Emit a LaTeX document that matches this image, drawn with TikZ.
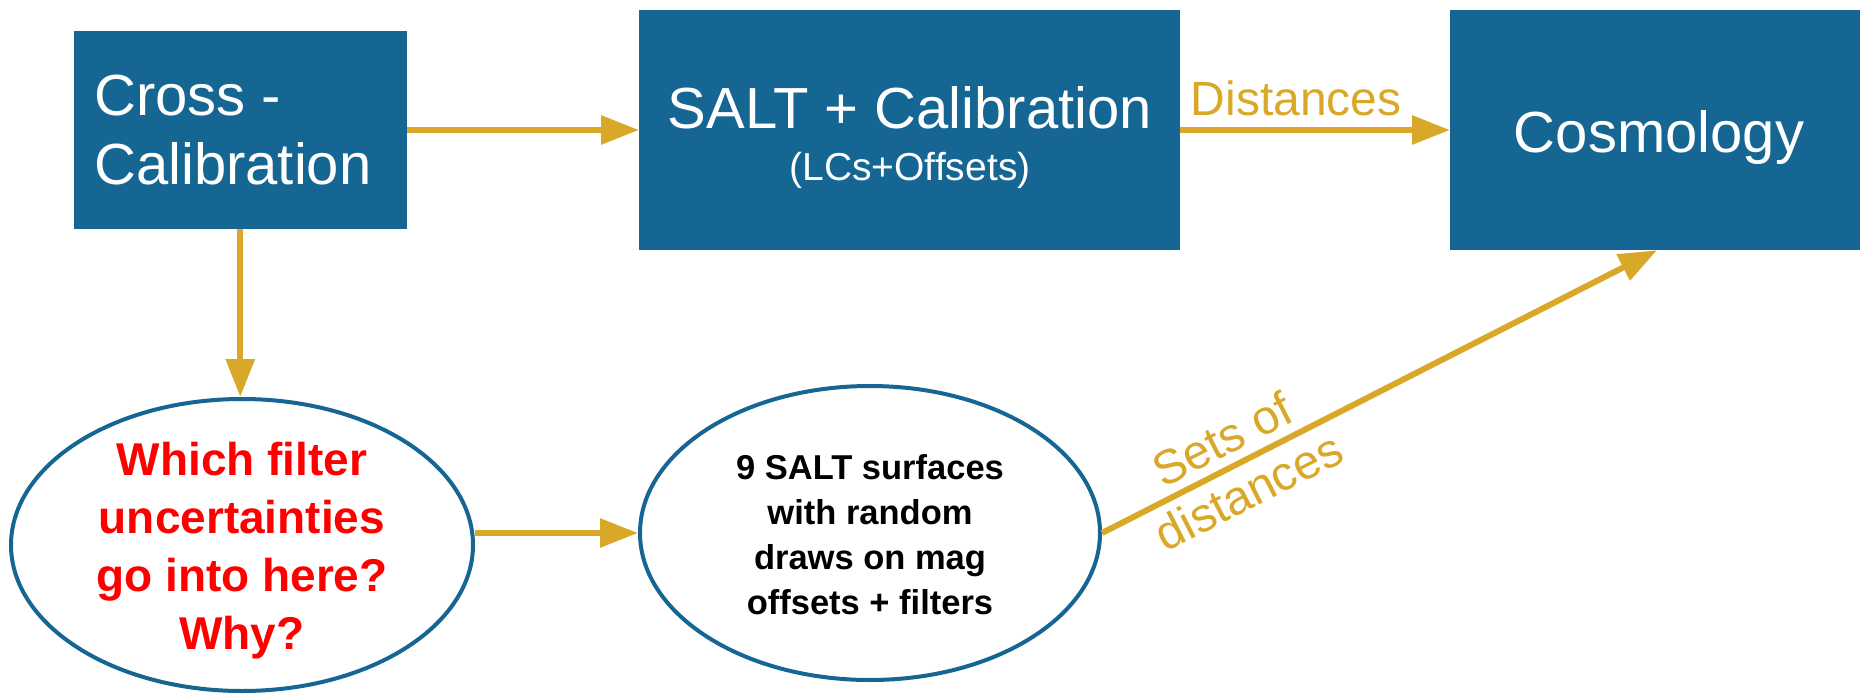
\documentclass[tikz,border=0pt]{standalone}
\usepackage{fontspec}
\setmainfont{Liberation Sans}
\usetikzlibrary{arrows.meta,shapes.geometric}
\definecolor{boxblue}{RGB}{22,102,148}
\definecolor{gold}{RGB}{218,168,41}
\tikzset{
  box/.style={fill=boxblue, draw=none, inner sep=0pt, outer sep=0pt},
  ell/.style={ellipse, draw=boxblue, line width=4pt, fill=white, inner sep=0pt},
  arr/.style={draw=gold, line width=6pt, -{Triangle[length=38pt,width=28pt]}},
  wtext/.style={text=white, inner sep=0pt},
  big/.style={font=\fontsize{58}{69}\selectfont},
  goldlab/.style={text=gold, inner sep=0pt, font=\fontsize{48}{58}\selectfont},
}
\begin{document}
\begin{tikzpicture}[x=1pt,y=-1pt]
\useasboundingbox (0,0) rectangle (1860,696);
% boxes
\node[box, minimum width=333.5pt, minimum height=198pt] (cross) at (240.25,130) {};
\node[box, minimum width=541pt, minimum height=240.5pt] (salt) at (909.5,130) {};
\node[box, minimum width=414pt, minimum height=240.5pt] (cosmo) at (1657,130) {};
% box texts
\node[wtext, big, align=left, anchor=west] (crosst) at (94,130.5) {Cross -\\Calibration};
\node[wtext, big, anchor=base] (saltt) at (910,128) {SALT + Calibration};
\node[wtext, font=\fontsize{39}{47}\selectfont, anchor=base] (lcs) at (910,180) {(LCs+Offsets)};
\node[wtext, big, anchor=base] (cosmot) at (1659,152) {Cosmology};
% ellipses
\node[ell, minimum width=462pt, minimum height=292pt] (e1) at (242,545) {};
\node[ell, minimum width=460pt, minimum height=294pt] (e2) at (870,533) {};
\node[text=red, inner sep=0pt, align=center, font=\fontsize{46}{58}\selectfont\bfseries] (q) at (242,551) {Which filter\\uncertainties\\go into here?\\Why?};
\node[text=black, inner sep=0pt, align=center, font=\fontsize{34.5}{45}\selectfont\bfseries] (s) at (870,535) {9 SALT surfaces\\with random\\draws on mag\\offsets + filters};
% connectors
\draw[arr] (cross.east) -- (salt.west);
\draw[arr] (salt.east) -- node[goldlab, pos=0.43, anchor=base, yshift=15pt] (dist) {Distances} (cosmo.west);
\draw[arr] (cross.south) -- (cross.south |- e1.north);
\draw[arr] (e1.east |- e2.west) -- (e2.west);
\draw[arr] (e2.east) -- node[goldlab, sloped, pos=0.24, align=center] (sets) {Sets of\\distances} (cosmo.south);
\end{tikzpicture}
\end{document}
